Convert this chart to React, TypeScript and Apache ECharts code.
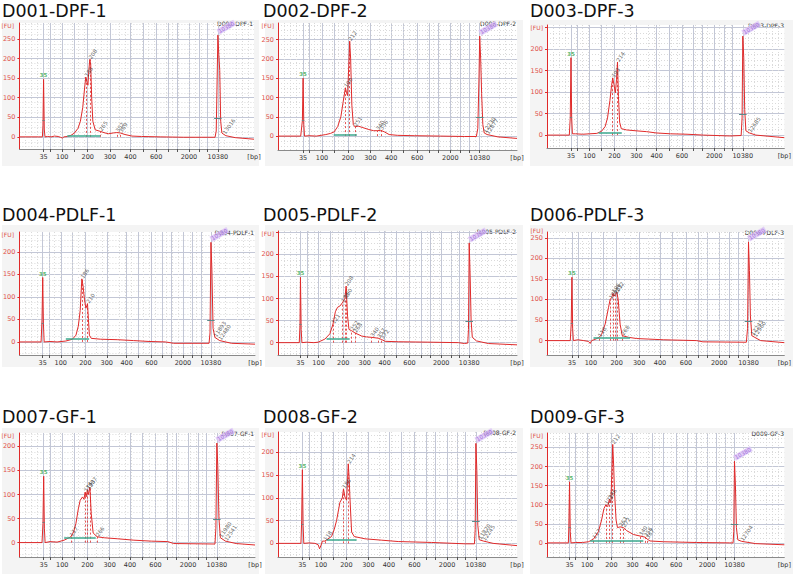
import React, { useEffect, useRef } from 'react';
import * as echarts from 'echarts';

// Sample names, one electropherogram per sample
const sampleNames = [
  'D001-DPF-1', 'D002-DPF-2', 'D003-DPF-3',
  'D004-PDLF-1', 'D005-PDLF-2', 'D006-PDLF-3',
  'D007-GF-1', 'D008-GF-2', 'D009-GF-3',
];

// Ladder sizes (bp) and their migration positions (0-100 scale) on a reference run
const ladderBp = [35, 50, 100, 150, 200, 300, 400, 500, 600, 700, 1000, 2000, 3000, 7000, 10380];
const ladderPos = [10.3, 13.1, 18.3, 23.5, 29.2, 38.7, 47.5, 52.8, 58.5, 63.5, 67.5, 72.5, 76.8, 80.5, 84.9];
const labelledBp = [35, 100, 200, 300, 400, 600, 2000, 10380];
const fuTicks = [0, 50, 100, 150, 200, 250];

// Lower (35 bp) and upper (10380 bp) marker positions of each run
const lowerMarkerPos = [10.3, 10.5, 10.1, 9.9, 9.4, 10.5, 10.3, 10.2, 9.5];
const upperMarkerPos = [84.6, 84.4, 82.5, 81.3, 80, 84.9, 83.8, 82.8, 79];

// Fluorescence range of each panel
const yMin = [-31, -36, -30, -29, -28, -35, -30, -30, -37];
const yMax = [291, 293, 256, 244, 253, 264, 228, 245, 288];

// Traces: [migration position, FU]
const trace1 = [[0, 0], [8, 0], [9.8, 0], [10.05, 30], [10.3, 147], [10.6, 20], [10.9, 0], [12, 1], [13.5, 0], [15, 2], [16.5, 1], [17.5, -1], [18.3, -3], [19, 0], [20.5, 1], [22, 4], [23.5, 10], [25, 22], [26, 40], [27, 75], [27.8, 125], [28.3, 153], [28.8, 140], [29.2, 132], [29.6, 170], [30, 198], [30.4, 185], [30.8, 100], [31.3, 40], [32.3, 18], [34.5, 14], [36.5, 10], [38, 8], [40, 10], [41.5, 11], [43, 10], [45, 6], [48, 2], [52, 1], [60, 0], [70, -1], [80, -1], [83.4, -1], [83.9, 15], [84.3, 150], [84.6, 260], [85, 210], [85.4, 170], [85.8, 40], [86.3, 10], [87.2, 6], [88, 3], [92, -2], [100, -6]];
const trace2 = [[0, 0], [9.5, 0], [10.2, 40], [10.5, 150], [10.8, 30], [11.1, 0], [13, 1], [16, 0], [18, 2], [20, 4], [22, 7], [23.5, 11], [25, 25], [26.3, 50], [27.3, 90], [28.2, 125], [28.7, 112], [29.1, 105], [29.6, 180], [30, 246], [30.4, 200], [30.9, 80], [31.5, 30], [32.2, 24], [33.5, 26], [35.5, 22], [38, 17], [40, 14], [41.5, 14], [43, 15], [44.5, 11], [46.5, 4], [50, 2], [57, 1], [68, 0], [78, -1], [83, -1], [83.6, 20], [84.1, 150], [84.4, 259], [84.8, 200], [85.2, 110], [85.7, 30], [86.3, 8], [87.5, 4], [92, -2], [100, -6]];
const trace3 = [[0, 0], [9.4, 0], [9.8, 40], [10.1, 180], [10.4, 40], [10.7, 3], [12, 3], [15, 2], [18, 3], [21, 4], [23, 9], [24.5, 20], [25.5, 40], [26.5, 80], [27.2, 115], [27.7, 133], [28.2, 118], [28.8, 98], [29.3, 130], [29.7, 170], [30.1, 90], [30.6, 30], [31.3, 15], [33.5, 12], [37.5, 10], [42, 8], [46, 5], [52, 3], [59, 2], [66, 0], [77, -2], [81.8, -1], [82.2, 40], [82.5, 230], [82.9, 180], [83.3, 60], [83.8, 10], [85.3, 5], [88, 0], [100, -6]];
const trace4 = [[0, 0], [9.2, 0], [9.6, 50], [9.9, 143], [10.2, 40], [10.5, 0], [13, 1], [16, 0], [19.7, 2], [22.5, 6], [24, 15], [25, 35], [25.8, 70], [26.5, 140], [27, 125], [27.6, 95], [28.2, 75], [28.6, 80], [28.9, 85], [29.3, 50], [29.7, 15], [30.5, 8], [34.5, 6], [41.5, 5], [48.5, 3], [55, 1], [62, 0], [65.5, -3], [80.5, -3], [80.9, 20], [81.3, 221], [81.7, 160], [82.2, 30], [83, 10], [85, 3], [90, -3], [100, -5]];
const trace5 = [[0, 0], [8.9, 0], [9.2, 40], [9.4, 148], [9.7, 30], [10, 0], [12, 1], [15, 0], [16.8, 1], [19.6, 8], [21.7, 20], [23, 42], [24, 70], [24.9, 80], [25.9, 83], [26.9, 90], [28, 100], [28.5, 128], [29.1, 60], [29.7, 30], [30.8, 27], [32.2, 22], [35, 15], [37, 13], [39.2, 12], [42, 10], [43.4, 7], [44.8, 3], [50.3, 2], [64, 1], [75.5, 0], [78, -2], [79.4, -1], [79.7, 30], [80, 226], [80.4, 150], [80.8, 50], [81.3, 12], [83, 4], [88, -2], [100, -5]];
const trace6 = [[0, 0], [9.8, 0], [10.2, 40], [10.5, 154], [10.8, 30], [11.1, 0], [13, 2], [15.5, 0], [17.5, -2], [18.2, -7], [18.8, 0], [20.3, 3], [22, 8], [23, 15], [24.5, 40], [25.9, 80], [26.6, 100], [27.3, 105], [27.8, 115], [28.2, 108], [28.7, 112], [29.4, 118], [30, 100], [30.8, 40], [31.7, 12], [34.3, 8], [37.8, 5], [49, 2], [63, 0], [65.7, -3], [84, -4], [84.5, 30], [84.9, 240], [85.3, 170], [85.7, 60], [86.3, 12], [87.5, 8], [90, 0], [100, -5]];
const trace7 = [[0, 0], [9.6, 0], [10, 40], [10.3, 138], [10.6, 30], [10.9, 0], [13, 2], [16, 1], [19, 5], [21.8, 12], [23, 22], [24, 40], [25, 70], [25.8, 88], [26.8, 95], [27.4, 90], [27.9, 105], [28.3, 95], [28.9, 110], [29.3, 100], [29.9, 115], [30.5, 60], [31.3, 20], [33, 12], [36, 10], [41.5, 8], [48.6, 5], [56, 3], [63, 2], [65.5, -2], [83, -3], [83.4, 30], [83.8, 207], [84.2, 160], [84.7, 50], [85.3, 10], [87.5, 3], [92, -2], [100, -5]];
const trace8 = [[0, 0], [9.6, 0], [9.9, 50], [10.2, 162], [10.5, 40], [10.8, 0], [13, 1], [15.5, 0], [16.8, -3], [17.4, -12], [18, -4], [18.6, 5], [19.6, 5], [22.4, 15], [23.5, 30], [24.5, 50], [25.9, 90], [26.9, 100], [27.4, 120], [28, 102], [28.7, 95], [29.1, 140], [29.4, 175], [29.8, 140], [30.1, 100], [30.8, 25], [31.9, 15], [36.4, 10], [43.4, 7], [50.3, 4], [64.3, 2], [78.3, -1], [82.2, -1], [82.5, 30], [82.8, 220], [83.2, 160], [83.6, 40], [84.2, 8], [86, 5], [90, 0], [100, -5]];
const trace9 = [[0, 0], [9, 0], [9.2, 40], [9.5, 160], [9.8, 30], [10.1, 0], [12, 1], [15, 1], [17.5, 3], [19.6, 10], [21.7, 30], [23, 60], [24, 90], [24.8, 100], [25.6, 95], [26.3, 115], [26.9, 105], [27.3, 180], [27.7, 258], [28.1, 200], [28.4, 140], [29.1, 60], [29.7, 40], [30.8, 42], [32.2, 40], [33.6, 32], [36.4, 22], [39.2, 18], [41.3, 15], [42.2, 10], [43.4, 5], [49, 3], [63, 1], [77, 0], [78.4, 0], [78.7, 30], [79, 214], [79.4, 150], [79.8, 40], [80.4, 8], [82, 4], [88, -2], [100, -5]];
const traces = [trace1, trace2, trace3, trace4, trace5, trace6, trace7, trace8, trace9];

// Called peaks in the sample region: [position, size in bp]
const peaks = [
  [[28.3, '186'], [30, '208'], [34.5, '265'], [41.5, '352'], [43, '369']],
  [[28.2, '190'], [30, '212'], [32.2, '251'], [41.5, '340'], [43, '356']],
  [[27.7, '193'], [29.7, '214']],
  [[26.5, '186'], [28.9, '210']],
  [[23, '121'], [26.9, '178'], [28, '190'], [28.5, '208'], [30.8, '252'], [32.2, '268'], [39.2, '340'], [42, '357'], [43.4, '372']],
  [[22, '118'], [26.6, '180'], [27.8, '196'], [28.7, '203'], [29.4, '212'], [31.7, '268']],
  [[21.8, '117'], [27.9, '174'], [28.9, '193'], [29.9, '207'], [33, '266']],
  [[19.6, '118'], [27.4, '186'], [29.4, '214']],
  [[19.6, '117'], [24.8, '172'], [26.3, '186'], [27.7, '212'], [30.8, '263'], [32.2, '272'], [39.2, '340'], [41.3, '356'], [42.2, '367']],
];
// Peaks called past the upper marker
const tailPeaks = [
  [[87.2, '13016']],
  [[86.3, '12230'], [87.5, '12877']],
  [[85.3, '12685']],
  [[83, '11893'], [85, '12480']],
  [],
  [[86.3, '12245'], [87.5, '12960']],
  [[85.3, '11980'], [87.5, '12541']],
  [[84.2, '11820'], [86, '12245']],
  [[82, '12704']],
];
// Smear region: [from, to, baseline FU]
const regions = [
  [20.4, 34.5, 4], [23.3, 33, 4], [21.7, 31.5, 6],
  [19.7, 29.6, 8], [20.3, 30, 8], [19.6, 35, 6],
  [19, 32.4, 10], [20.3, 32.9, 7], [18.2, 40.6, 6],
];
// Marker band levels (lower, upper) in FU
const markerBandFu = [42, 48];

// Layout: plot rectangles [left, top, width, height]
const gridRects = [
  [18, 23, 236, 126], [278, 23, 239, 127], [547, 25, 238, 123],
  [18, 232, 237, 123], [278, 231, 239, 124], [547, 232, 238, 123],
  [18, 433, 237, 124], [278, 432, 239, 125], [547, 433, 238, 124],
];
const colLeft = [2, 265, 530];
const colWidth = [257, 258, 263];
const rowTop = [20, 225, 428];
const rowHeight = [146, 142, 146];
const titleX = [2, 263, 530];
const titleMid = [10.5, 215, 417];

const RED = '#e02a2a';
const GRID_SOLID = '#c3c7d6';
const GRID_DOT = '#dadada';

// Position of a ladder size on a given run, scaled between its two markers
function posOf(panel: number, bp: number): number {
  const k = ladderBp.indexOf(bp);
  const lo = lowerMarkerPos[panel];
  const hi = upperMarkerPos[panel];
  const r0 = ladderPos[0];
  const r1 = ladderPos[ladderPos.length - 1];
  return lo + ((ladderPos[k] - r0) / (r1 - r0)) * (hi - lo);
}

// FU value of the trace point nearest to a position
function fuAt(trace: number[][], x: number): number {
  let best = trace[0];
  for (const p of trace) if (Math.abs(p[0] - x) < Math.abs(best[0] - x)) best = p;
  return best[1];
}

function buildOption() {
  const grids: any[] = [];
  const xAxes: any[] = [];
  const yAxes: any[] = [];
  const series: any[] = [];
  const graphics: any[] = [];

  for (let r = 0; r < 3; r++) {
    for (let c = 0; c < 3; c++) {
      graphics.push({
        type: 'rect', z: -10,
        shape: { x: colLeft[c], y: rowTop[r], width: colWidth[c], height: rowHeight[r] },
        style: { fill: '#f4f4f4' },
      });
    }
  }

  sampleNames.forEach((name, i) => {
    const [l, t, w, h] = gridRects[i];
    const trace = traces[i];
    const row = Math.floor(i / 3);
    const col = i % 3;

    grids.push({ left: l, top: t, width: w, height: h, show: true, backgroundColor: '#ffffff', borderWidth: 0 });

    const tickPos = ladderBp.map((bp) => posOf(i, bp));
    const labelPos = labelledBp.map((bp) => posOf(i, bp)).concat([100]);
    const labelText = labelledBp.map(String).concat(['[bp]']);

    // FU labels are left off when they would sit against the top of the plot
    const fuLabels = fuTicks.filter((v) => v <= yMax[i] - 10);
    const topLabel = fuLabels[fuLabels.length - 1];
    const topLabelY = t + ((yMax[i] - topLabel) / (yMax[i] - yMin[i])) * h;
    const fuNameY = Math.min(t + 2.5, topLabelY - 7);

    xAxes.push({
      type: 'value', gridIndex: i, min: 0, max: 100, splitNumber: 10,
      axisLine: { show: true, onZero: false, lineStyle: { color: '#8a8a8a', width: 1 } },
      axisTick: { show: true, customValues: tickPos, length: 3, lineStyle: { color: '#555' } },
      axisLabel: {
        show: true, customValues: labelPos, fontSize: 6.5, color: '#333', margin: 4,
        fontFamily: '"DejaVu Sans", sans-serif',
        formatter: (v: number) => {
          const k = labelPos.findIndex((p) => Math.abs(p - v) < 1e-6);
          return k >= 0 ? labelText[k] : '';
        },
      },
      splitLine: { show: true, lineStyle: { color: GRID_SOLID, width: 1 } },
      minorTick: { show: false, splitNumber: 4 },
      minorSplitLine: { show: true, lineStyle: { color: GRID_DOT, type: [1, 2], width: 1 } },
    });

    yAxes.push({
      type: 'value', gridIndex: i, min: yMin[i], max: yMax[i],
      axisLine: { show: true, onZero: false, lineStyle: { color: RED, width: 1 } },
      axisTick: { show: true, customValues: fuTicks, length: 2, lineStyle: { color: RED } },
      axisLabel: { show: true, customValues: fuLabels, fontSize: 6.5, color: '#e0504a', margin: 4, fontFamily: '"DejaVu Sans", sans-serif' },
      splitLine: { show: true, lineStyle: { color: GRID_SOLID, width: 1 } },
      minorTick: { show: false, splitNumber: 4 },
      minorSplitLine: { show: true, lineStyle: { color: GRID_DOT, type: [1, 2], width: 1 } },
    });

    const lo = lowerMarkerPos[i];
    const hi = upperMarkerPos[i];
    const [rx0, rx1, ry] = regions[i];

    const markLines: any[] = [];
    peaks[i].forEach(([x]) => {
      const px = x as number;
      markLines.push([
        { coord: [px, 0], lineStyle: { color: RED, type: [2, 2], width: 0.8 } },
        { coord: [px, fuAt(trace, px)] },
      ]);
    });
    markLines.push([
      { coord: [rx0, ry], lineStyle: { color: '#3aa88e', type: 'solid', width: 1.5 } },
      { coord: [rx1, ry] },
    ]);
    markLines.push([
      { coord: [lo - 0.5, markerBandFu[0]], lineStyle: { color: '#7a7a7a', type: 'solid', width: 1 } },
      { coord: [lo + 0.5, markerBandFu[0]] },
    ]);
    markLines.push([
      { coord: [hi - 1.6, markerBandFu[1]], lineStyle: { color: '#5a8a8a', type: 'solid', width: 1 } },
      { coord: [hi + 1.6, markerBandFu[1]] },
    ]);

    series.push({
      type: 'line', xAxisIndex: i, yAxisIndex: i, data: trace,
      showSymbol: false, symbol: 'none', clip: true, z: 3,
      lineStyle: { color: RED, width: 1 },
      markLine: { silent: true, symbol: ['none', 'none'], label: { show: false }, data: markLines, animation: false },
    });

    const grayLabel = {
      show: true, formatter: '{b}', position: 'top', distance: 1, rotate: 55,
      align: 'left', verticalAlign: 'middle', fontSize: 5.5, color: '#444',
      fontFamily: '"DejaVu Sans", sans-serif',
    };
    const labelData: any[] = [
      {
        name: '35', value: [lo, fuAt(trace, lo)],
        label: { ...grayLabel, rotate: 0, align: 'center', verticalAlign: 'bottom', color: '#2fa84a', fontWeight: 'bold' },
      },
      {
        name: '10380', value: [hi, fuAt(trace, hi)],
        label: { ...grayLabel, rotate: 30, color: '#8e55d0', backgroundColor: '#dcc3f6', padding: [0, 1], distance: 3 },
      },
    ];
    peaks[i].concat(tailPeaks[i]).forEach(([x, txt]) => {
      const px = x as number;
      labelData.push({ name: txt, value: [px, fuAt(trace, px)], label: grayLabel });
    });
    series.push({
      type: 'scatter', xAxisIndex: i, yAxisIndex: i, symbolSize: 0, z: 5, silent: true,
      data: labelData, label: grayLabel,
    });

    // Panel title, unit label of the FU axis and the run name in the plot corner
    graphics.push({
      type: 'text', x: titleX[col], y: titleMid[row],
      style: { text: name, fill: '#111', font: '17.5px "DejaVu Sans", sans-serif', verticalAlign: 'middle', align: 'left' },
    });
    graphics.push({
      type: 'text', x: l - 4, y: fuNameY,
      style: { text: '[FU]', fill: '#e0504a', font: '6px "DejaVu Sans", sans-serif', verticalAlign: 'middle', align: 'right' },
    });
    graphics.push({
      type: 'text', x: l + w - 1, y: t,
      style: { text: name, fill: '#333', font: '6px "DejaVu Sans", sans-serif', verticalAlign: 'middle', align: 'right' },
    });
  });

  return {
    animation: false,
    backgroundColor: '#ffffff',
    grid: grids,
    xAxis: xAxes,
    yAxis: yAxes,
    series,
    graphic: graphics,
  };
}

export default function App() {
  const ref = useRef<HTMLDivElement>(null);
  useEffect(() => {
    if (!ref.current) return;
    const chart = echarts.init(ref.current, undefined, { renderer: 'svg' });
    chart.setOption(buildOption() as any);
    return () => chart.dispose();
  }, []);
  return <div ref={ref} style={{ position: 'fixed', left: 0, top: 0, width: 794, height: 574 }} />;
}
